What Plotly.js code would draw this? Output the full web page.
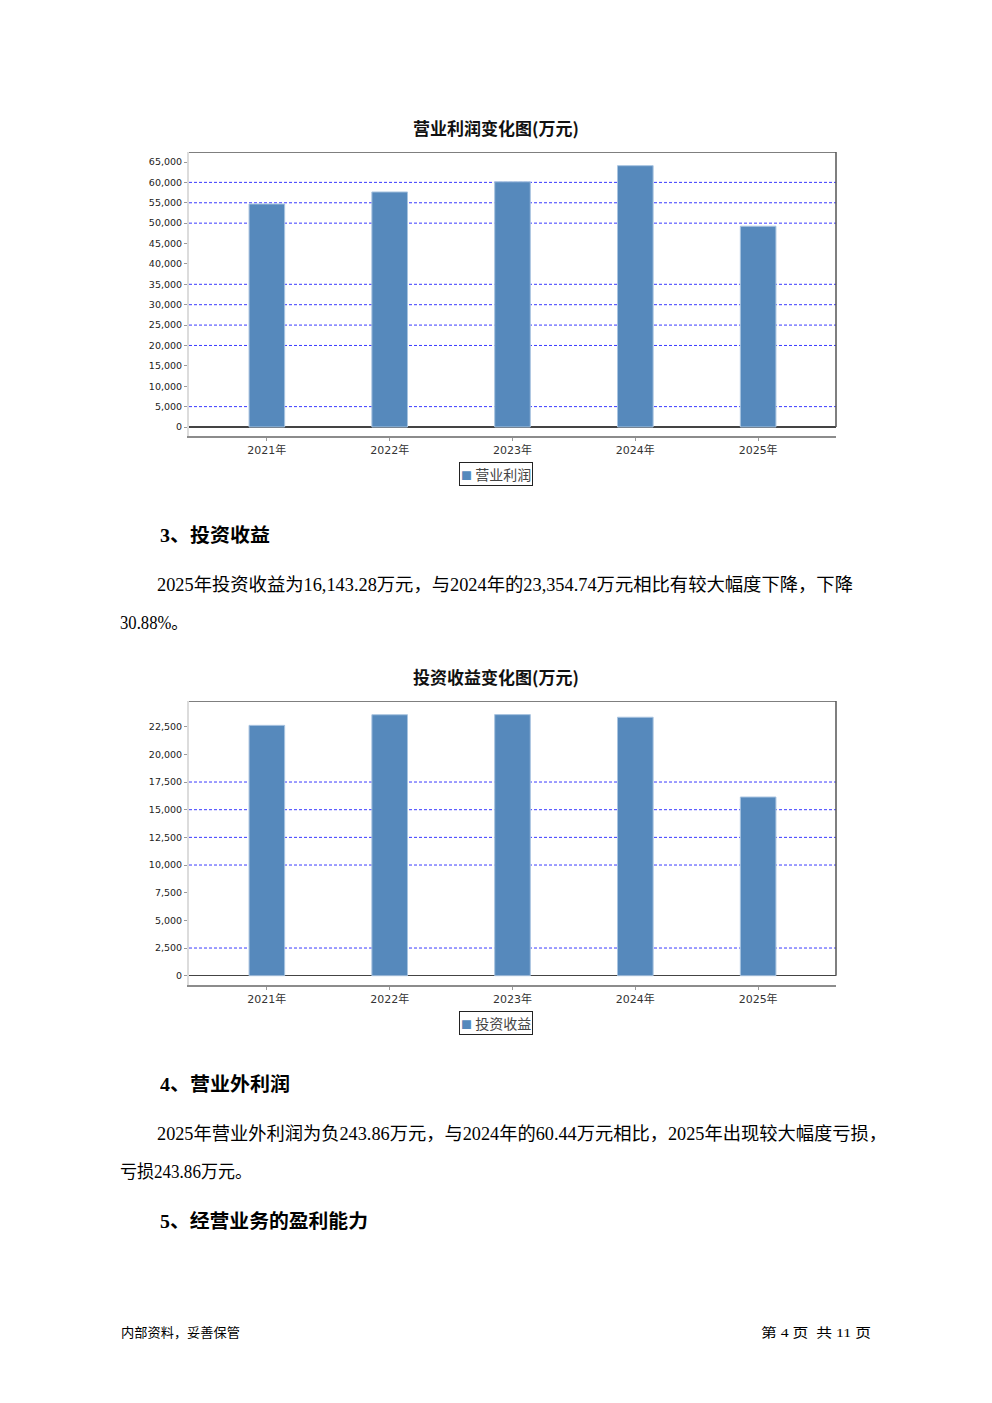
<!DOCTYPE html>
<html>
<head>
<meta charset="utf-8">
<script src="https://cdn.plot.ly/plotly-3.0.1.min.js"></script>
<style>
  html, body { margin:0; padding:0; background:#fff; }
  #page { position:relative; width:992px; height:1403px; overflow:hidden; background:#fff; }
  .chart { position:absolute; left:0; width:992px; height:400px; }
  .t { position:absolute; white-space:nowrap; height:24px; line-height:24px; color:#000;
       font-family:"Liberation Serif","Noto Sans CJK SC",serif; transform-origin:left center; }
  .h { font-weight:bold; font-size:19px; }
  .b { font-size:18px; }
  .f { font-size:13px; font-family:"Liberation Serif","Noto Sans CJK SC",sans-serif; }
</style>
</head>
<body>
<div id="page">
  <div id="chart1" class="chart" style="top:100px;"></div>
  <div id="chart2" class="chart" style="top:650px;"></div>

  <div class="t h" style="left:160px; top:524px;" data-w="110">3、投资收益</div>
  <div class="t b" style="left:157px; top:573px;" data-w="696">2025年投资收益为16,143.28万元，与2024年的23,354.74万元相比有较大幅度下降，下降</div>
  <div class="t b" style="left:120px; top:611px;" data-w="68">30.88%。</div>

  <div class="t h" style="left:160px; top:1073px;" data-w="130">4、营业外利润</div>
  <div class="t b" style="left:157px; top:1122px;" data-w="730">2025年营业外利润为负243.86万元，与2024年的60.44万元相比，2025年出现较大幅度亏损，</div>
  <div class="t b" style="left:120px; top:1160px;" data-w="132">亏损243.86万元。</div>

  <div class="t h" style="left:160px; top:1210px;" data-w="208">5、经营业务的盈利能力</div>

  <div class="t f" style="left:121px; top:1321px;" data-w="119">内部资料，妥善保管</div>
  <div class="t f" style="left:761px; top:1321px;" data-w="110">第 4 页 &nbsp;共 11 页</div>
</div>
<script>
// ---- data ----
const years = ['2021年', '2022年', '2023年', '2024年', '2025年'];
const operatingProfit = [54700, 57650, 60150, 64100, 49250];
const investmentIncome = [22620, 23580, 23590, 23354.74, 16143.28];
const chart1Title = '营业利润变化图(万元)';
const chart2Title = '投资收益变化图(万元)';
const series1Name = '营业利润';
const series2Name = '投资收益';
// gridlines visible in the reference
const grid1Values = [60000, 55000, 50000, 35000, 30000, 25000, 20000, 5000];
const grid2Values = [17500, 15000, 12500, 10000, 2500];

const FONT = '"DejaVu Sans","Noto Sans CJK SC",sans-serif';
const BAR = '#5689BC';

function makeChart(id, names, vals, seriesName, title, yRange, dtick, gridVals, margin, titleY) {
  const trace = {
    type: 'bar', x: names, y: vals, name: seriesName,
    width: 0.29,
    marker: { color: BAR, line: { color: '#a9c4e0', width: 1 } },
    showlegend: false, hoverinfo: 'skip'
  };
  const shapes = gridVals.map(v => ({
    type: 'line', xref: 'paper', yref: 'y', x0: 0, x1: 1, y0: v, y1: v,
    line: { color: '#3a3aff', width: 1, dash: '3px,2px' }, layer: 'below'
  }));
  // plot box: top and right edges
  shapes.push({ type: 'line', xref: 'paper', yref: 'y', x0: 0, x1: 1, y0: yRange[1], y1: yRange[1],
    line: { color: '#555', width: 1.5 } });
  shapes.push({ type: 'line', xref: 'paper', yref: 'y', x0: 1, x1: 1, y0: 0, y1: yRange[1],
    line: { color: '#555', width: 1.5 } });
  const plotW = 992 - margin.l - margin.r;
  const plotH = 400 - margin.t - margin.b;
  // legend box centred at page x=496, ~37px below the x axis line
  const legend = {
    xref: 'paper', yref: 'paper',
    x: (496 - margin.l) / plotW, y: -37.5 / plotH, xanchor: 'center', yanchor: 'middle',
    text: '<span style="color:' + BAR + ';font-size:11px">■</span> ' + seriesName,
    showarrow: false, bgcolor: '#fff', bordercolor: '#222', borderwidth: 1, borderpad: 1,
    font: { family: '"Noto Sans CJK SC",sans-serif', size: 14, color: '#444' }
  };
  const layout = {
    width: 992, height: 400,
    margin: margin,
    paper_bgcolor: '#fff', plot_bgcolor: '#fff',
    font: { family: FONT, color: '#333' },
    title: { text: title, xref: 'container', x: 0.5, xanchor: 'center', yref: 'container', y: titleY, yanchor: 'middle',
             font: { family: '"Noto Sans CJK SC",sans-serif', size: 17, weight: 'bold', color: '#111' } },
    xaxis: {
      type: 'category', range: [-0.634, 4.634], showgrid: false, zeroline: false,
      showline: true, linecolor: '#8c8c8c', linewidth: 1.5,
      ticks: 'outside', ticklen: 3, tickcolor: '#999',
      tickfont: { family: FONT, size: 11, color: '#333' }, fixedrange: true
    },
    yaxis: {
      range: yRange, tick0: 0, dtick: dtick, tickformat: ',d',
      showgrid: false, zeroline: true, zerolinecolor: '#444', zerolinewidth: 1.5,
      showline: true, linecolor: '#dcdcdc', linewidth: 2,
      ticks: 'outside', ticklen: 3, tickcolor: '#999',
      tickfont: { family: FONT, size: 9.5, color: '#222' }, fixedrange: true
    },
    shapes: shapes,
    annotations: [legend],
    showlegend: false,
    bargap: 0
  };
  return Plotly.newPlot(id, [trace], layout, { staticPlot: true, displayModeBar: false });
}

makeChart('chart1', years, operatingProfit, series1Name, chart1Title, [-2208, 67453], 5000, grid1Values,
  { l: 189, r: 156, t: 52, b: 64, pad: 0 }, 0.9275);
makeChart('chart2', years, investmentIncome, series2Name, chart2Title, [-840, 24820], 2500, grid2Values,
  { l: 189, r: 156, t: 51, b: 65, pad: 0 }, 0.93);

// fit text lines to reference widths
document.querySelectorAll('.t[data-w]').forEach(el => {
  const w = parseFloat(el.getAttribute('data-w'));
  const nat = el.getBoundingClientRect().width;
  if (nat > 0) el.style.transform = 'scaleX(' + (w / nat) + ')';
});
</script>
</body>
</html>
